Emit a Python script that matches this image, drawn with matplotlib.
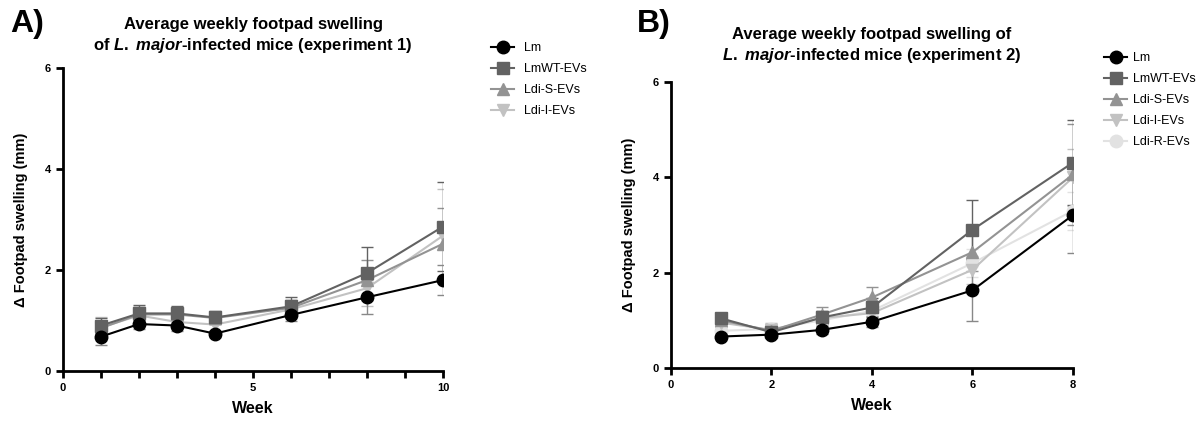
import matplotlib
matplotlib.use("Agg")
import matplotlib.pyplot as plt
from matplotlib.lines import Line2D
from matplotlib.ticker import MultipleLocator

plt.rcParams['font.family'] = ['Liberation Sans', 'DejaVu Sans']
plt.rcParams['mathtext.fontset'] = 'custom'
plt.rcParams['mathtext.it'] = 'Liberation Sans:italic:bold'
plt.rcParams['mathtext.rm'] = 'Liberation Sans:bold'
plt.rcParams['mathtext.bf'] = 'Liberation Sans:bold'

# experiment 1
weeks_a = [1, 2, 3, 4, 6, 8, 10]
lm_a = [0.68, 0.93, 0.90, 0.74, 1.11, 1.46, 1.80]
lm_a_err = [0.17, 0.10, 0.10, 0.06, 0.12, 0.34, 0.30]
lmwt_a = [0.90, 1.14, 1.14, 1.06, 1.28, 1.94, 2.86]
lmwt_a_err = [0.15, 0.16, 0.14, 0.12, 0.18, 0.52, 0.88]
ldis_a = [0.85, 1.12, 1.12, 1.05, 1.25, 1.80, 2.52]
ldis_a_err = [0.15, 0.14, 0.12, 0.12, 0.16, 0.40, 0.70]
ldii_a = [0.86, 1.10, 0.97, 0.92, 1.22, 1.64, 2.68]
ldii_a_err = [0.20, 0.16, 0.14, 0.14, 0.18, 0.36, 0.92]

# experiment 2
weeks_b = [1, 2, 3, 4, 6, 8]
lm_b = [0.66, 0.70, 0.80, 0.97, 1.63, 3.21]
lm_b_err = [0.05, 0.06, 0.08, 0.12, 0.64, 0.80]
lmwt_b = [1.04, 0.75, 1.06, 1.27, 2.90, 4.31]
lmwt_b_err = [0.12, 0.10, 0.14, 0.20, 0.62, 0.90]
ldis_b = [1.00, 0.78, 1.12, 1.48, 2.43, 4.06]
ldis_b_err = [0.14, 0.12, 0.16, 0.22, 0.40, 1.06]
ldii_b = [0.95, 0.80, 1.05, 1.15, 2.06, 4.00]
ldii_b_err = [0.14, 0.14, 0.14, 0.16, 0.30, 0.60]
ldir_b = [0.78, 0.82, 1.00, 1.20, 2.20, 3.30]
ldir_b_err = [0.10, 0.12, 0.14, 0.16, 0.30, 0.40]

groups_a = [("Lm", lm_a, lm_a_err, "black", "o"),
            ("LmWT-EVs", lmwt_a, lmwt_a_err, "#626262", "s"),
            ("Ldi-S-EVs", ldis_a, ldis_a_err, "#939393", "^"),
            ("Ldi-I-EVs", ldii_a, ldii_a_err, "#c2c2c2", "v")]
groups_b = [("Lm", lm_b, lm_b_err, "black", "o"),
            ("LmWT-EVs", lmwt_b, lmwt_b_err, "#626262", "s"),
            ("Ldi-S-EVs", ldis_b, ldis_b_err, "#939393", "^"),
            ("Ldi-I-EVs", ldii_b, ldii_b_err, "#c2c2c2", "v"),
            ("Ldi-R-EVs", ldir_b, ldir_b_err, "#e2e2e2", "o")]


def draw(ax, weeks, groups):
    for name, vals, err, col, mk in groups[::-1]:
        ax.errorbar(weeks, vals, yerr=err, color=col, marker=mk, markersize=9,
                    lw=1.5, elinewidth=1, capsize=4, capthick=1,
                    ecolor=col if col != "black" else "#888888")
    for s in ["top", "right"]:
        ax.spines[s].set_visible(False)
    for s in ["left", "bottom"]:
        ax.spines[s].set_linewidth(2)
    ax.set_ylim(0, 6)
    ax.set_yticks([0, 2, 4, 6])
    ax.tick_params(width=2, length=5, labelsize=8)
    ax.tick_params(which="minor", width=2, length=5)
    ax.set_xlabel("Week", fontsize=11.5, fontweight="bold", labelpad=6)
    ax.set_ylabel("Δ Footpad swelling (mm)", fontsize=10.5, fontweight="bold", labelpad=12)
    handles = [Line2D([], [], color=g[3], marker=g[4], markersize=9, lw=1.5) for g in groups]
    return handles, [g[0] for g in groups]


fig = plt.figure(figsize=(12.02, 4.21), dpi=100)
ax1 = fig.add_axes([63 / 1202, 1 - 371 / 421, 380 / 1202, 303 / 421])
ax2 = fig.add_axes([671 / 1202, 1 - 368 / 421, 402 / 1202, 286 / 421])

h, l = draw(ax1, weeks_a, groups_a)
ax1.set_xlim(0, 10)
ax1.set_xticks([0, 5, 10])
ax1.xaxis.set_minor_locator(MultipleLocator(1))
for t in ax1.get_xticklabels() + ax1.get_yticklabels():
    t.set_fontweight("bold")
ax1.set_title("Average weekly footpad swelling\nof $\\it{L.\\ major}$-infected mice (experiment 1)",
              fontsize=12, fontweight="bold", pad=13, linespacing=1.25)
fig.legend(h, l, loc="upper left", bbox_to_anchor=(480 / 1202, 1 - 31 / 421), frameon=False,
           fontsize=9, handlelength=1.8, labelspacing=0.72)

h, l = draw(ax2, weeks_b, groups_b)
ax2.set_xlim(0, 8)
ax2.set_xticks([0, 2, 4, 6, 8])
for t in ax2.get_xticklabels() + ax2.get_yticklabels():
    t.set_fontweight("bold")
ax2.set_title("Average weekly footpad swelling of\n$\\it{L.\\ major}$-infected mice (experiment 2)",
              fontsize=12, fontweight="bold", pad=16, linespacing=1.25)
fig.legend(h, l, loc="upper left", bbox_to_anchor=(1093 / 1202, 1 - 41 / 421), frameon=False,
           fontsize=9, handlelength=1.8, labelspacing=0.72, handletextpad=0.5)

fig.text(10 / 1202, 1 - 24 / 421, "A)", fontsize=23, fontweight="bold", va="center")
fig.text(637 / 1202, 1 - 24 / 421, "B)", fontsize=23, fontweight="bold", va="center")

fig.savefig("out.png", dpi=100)
